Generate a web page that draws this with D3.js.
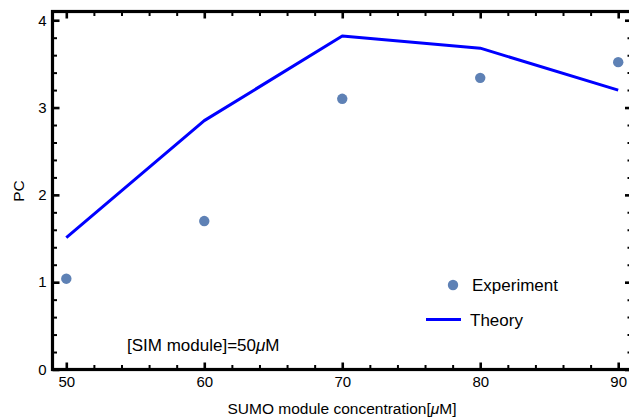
<!DOCTYPE html>
<html>
<head>
<meta charset="utf-8">
<script src="https://cdn.jsdelivr.net/npm/d3@7"></script>
<style>
  body { margin: 0; background: #fff; }
  svg { display: block; font-family: 'Liberation Sans', Arial, sans-serif; }
</style>
</head>
<body>
<svg width="629" height="417"></svg>
<script>
const w = 629;
const h = 417;

// data
const concentrations = [50, 60, 70, 80, 90];
const experiment = [1.04, 1.70, 3.10, 3.34, 3.52];
const theory = [1.51, 2.85, 3.82, 3.68, 3.20];
const xTicks = [50, 60, 70, 80, 90];
const yTicks = [0, 1, 2, 3, 4];

const frame = { left: 52.5, right: 632, top: 11.5, bottom: 369.5 };

const canvas = d3.select('svg').attr('width', w).attr('height', h);

const xScale = d3.scaleLinear().domain([49, 91]).range([frame.left, frame.right]);
const yScale = d3.scaleLinear().domain([0, 4.1]).range([frame.bottom, frame.top]);

const xMinor = d3.range(50, 91, 2).filter((d) => d % 10 !== 0);
const yMinor = d3.range(1, 20).filter((d) => d % 5 !== 0).map((d) => d / 5);

// frame
canvas.append('rect')
	.attr('x', frame.left)
	.attr('y', frame.top)
	.attr('width', frame.right - frame.left)
	.attr('height', frame.bottom - frame.top)
	.attr('fill', 'none')
	.attr('stroke', '#000')
	.attr('stroke-width', 3.2);

// tick marks drawn inward from the frame
const drawTicks = (axis, pos, size, width) => {
	const g = canvas.append('g').attr('transform', pos).call(axis.tickSizeInner(-size).tickSizeOuter(0));
	g.select('.domain').remove();
	g.selectAll('.tick line').attr('stroke', '#000').attr('stroke-width', width);
	g.selectAll('.tick text').attr('fill', '#000').attr('font-size', '15px');
	return g;
};

drawTicks(d3.axisBottom(xScale).tickValues(xTicks).tickPadding(7).tickFormat(d3.format('d')),
	`translate(0,${frame.bottom})`, 7, 2.6);
drawTicks(d3.axisTop(xScale).tickValues(xTicks).tickFormat(''), `translate(0,${frame.top})`, 7, 2.6);
drawTicks(d3.axisLeft(yScale).tickValues(yTicks).tickPadding(6).tickFormat(d3.format('d')),
	`translate(${frame.left},0)`, 7, 2.6);
drawTicks(d3.axisRight(yScale).tickValues(yTicks).tickFormat(''), `translate(${frame.right},0)`, 7, 2.6);

drawTicks(d3.axisBottom(xScale).tickValues(xMinor).tickFormat(''), `translate(0,${frame.bottom})`, 4.5, 2);
drawTicks(d3.axisTop(xScale).tickValues(xMinor).tickFormat(''), `translate(0,${frame.top})`, 4.5, 2);
drawTicks(d3.axisLeft(yScale).tickValues(yMinor).tickFormat(''), `translate(${frame.left},0)`, 4.5, 2);
drawTicks(d3.axisRight(yScale).tickValues(yMinor).tickFormat(''), `translate(${frame.right},0)`, 4.5, 2);

// theory line
const line = d3.line()
	.x((d, i) => xScale(concentrations[i]))
	.y((d) => yScale(d));
canvas.append('path')
	.datum(theory)
	.attr('d', line)
	.attr('fill', 'none')
	.attr('stroke', '#0000ff')
	.attr('stroke-width', 3)
	.attr('stroke-linejoin', 'round');

// experiment points
canvas.selectAll('circle.dot')
	.data(experiment)
	.enter()
	.append('circle')
	.attr('class', 'dot')
	.attr('r', 5.2)
	.attr('cx', (d, i) => xScale(concentrations[i]))
	.attr('cy', (d) => yScale(d))
	.attr('fill', '#5e81b5');

// legend
const legend = canvas.append('g');
legend.append('circle')
	.attr('cx', 453)
	.attr('cy', 285)
	.attr('r', 5.2)
	.attr('fill', '#5e81b5');
legend.append('text')
	.attr('x', 472)
	.attr('y', 290.5)
	.attr('font-size', '17px')
	.text('Experiment');
legend.append('line')
	.attr('x1', 426)
	.attr('x2', 461)
	.attr('y1', 319.5)
	.attr('y2', 319.5)
	.attr('stroke', '#0000ff')
	.attr('stroke-width', 3);
legend.append('text')
	.attr('x', 470)
	.attr('y', 325.5)
	.attr('font-size', '17px')
	.text('Theory');

// annotation
const note = canvas.append('text')
	.attr('x', 127)
	.attr('y', 350.5)
	.attr('font-size', '17px');
note.append('tspan').text('[SIM module]=50');
note.append('tspan').attr('font-style', 'italic').text('μ');
note.append('tspan').text('M');

// axis labels
const xLabel = canvas.append('text')
	.attr('x', 342)
	.attr('y', 414)
	.attr('text-anchor', 'middle')
	.attr('font-size', '15.5px');
xLabel.append('tspan').text('SUMO module concentration[');
xLabel.append('tspan').attr('font-style', 'italic').text('μ');
xLabel.append('tspan').text('M]');

canvas.append('text')
	.attr('transform', `translate(24,191) rotate(-90)`)
	.attr('text-anchor', 'middle')
	.attr('font-size', '15.5px')
	.text('PC');
</script>
</body>
</html>
